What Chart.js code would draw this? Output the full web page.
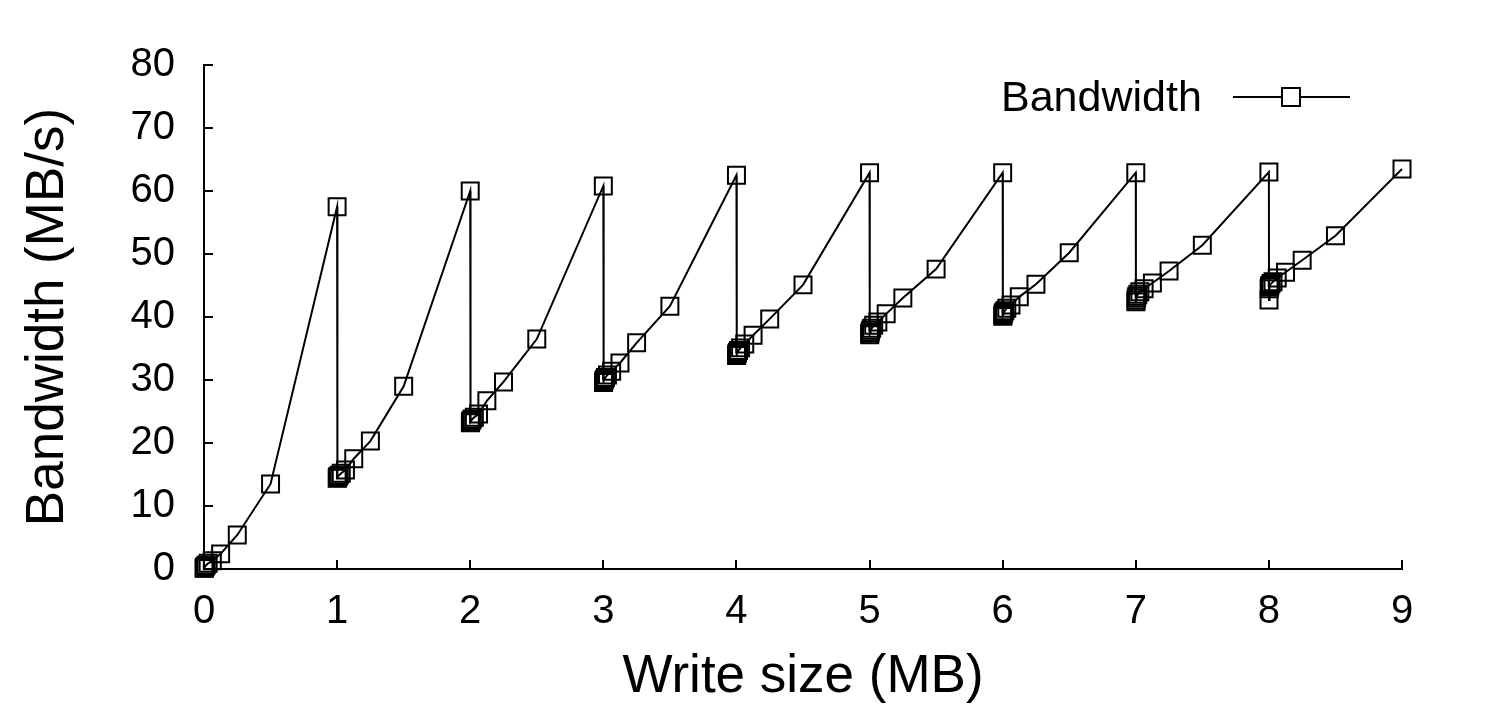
<!DOCTYPE html>
<html>
<head>
<meta charset="utf-8">
<title>Bandwidth vs write size</title>
<script src="https://cdn.jsdelivr.net/npm/chart.js@4.4.1/dist/chart.umd.min.js"></script>
<style>
  html, body { margin: 0; padding: 0; background: #fff; }
  canvas { display: block; }
</style>
</head>
<body>
<canvas id="bandwidthChart" width="1503" height="724"></canvas>
<script>
// write sizes inside each MB step: +1KB, 2KB, 4KB ... 512KB
const stepOffsets = [0.001, 0.002, 0.004, 0.008, 0.016, 0.031, 0.0625, 0.125, 0.25, 0.5];
const stepStarts = [0, 1, 2, 3, 4, 5, 6, 7, 8];

// bandwidth (MB/s), one row per MB step
const bandwidthStep0 = [0.1, 0.15, 0.25, 0.4, 0.6, 0.9, 1.3, 2.4, 5.4, 13.5];
const bandwidthStep1 = [14.4, 14.5, 14.6, 14.7, 14.9, 15.2, 15.7, 17.5, 20.3, 29.0];
const bandwidthStep2 = [23.2, 23.3, 23.4, 23.6, 23.8, 24.1, 24.6, 26.7, 29.7, 36.5];
const bandwidthStep3 = [29.6, 29.7, 29.9, 30.1, 30.4, 30.8, 31.4, 32.7, 35.9, 41.7];
const bandwidthStep4 = [33.9, 34.0, 34.2, 34.4, 34.7, 35.1, 35.7, 37.1, 39.7, 45.1];
const bandwidthStep5 = [37.2, 37.4, 37.6, 37.9, 38.2, 38.7, 39.2, 40.5, 43.0, 47.6];
const bandwidthStep6 = [40.1, 40.3, 40.5, 40.7, 41.0, 41.4, 41.9, 43.2, 45.2, 50.2];
const bandwidthStep7 = [42.4, 42.7, 43.0, 43.3, 43.6, 44.0, 44.5, 45.4, 47.3, 51.4];
const bandwidthStep8 = [42.7, 44.5, 44.8, 45.0, 45.3, 45.6, 46.2, 47.1, 49.0, 52.9];

// full MB write sizes and their bandwidth
const peakSizes = [1, 2, 3, 4, 5, 6, 7, 8, 9];
const peakBandwidth = [57.5, 60.0, 60.8, 62.5, 62.9, 62.9, 62.9, 63.0, 63.5];

const xTicks = [0, 1, 2, 3, 4, 5, 6, 7, 8, 9];

const stepRows = [bandwidthStep0, bandwidthStep1, bandwidthStep2, bandwidthStep3, bandwidthStep4,
                  bandwidthStep5, bandwidthStep6, bandwidthStep7, bandwidthStep8];

const points = [];
stepStarts.forEach((start, k) => {
    stepOffsets.forEach((off, i) => {
        points.push({ x: start + off, y: stepRows[k][i] });
    });
    points.push({ x: peakSizes[k], y: peakBandwidth[k] });
});

const FONT = '"Liberation Sans", Arial, sans-serif';

const whiteBackground = {
    id: "whiteBackground",
    beforeDraw(chart) {
        const ctx = chart.ctx;
        ctx.save();
        ctx.fillStyle = "#fff";
        ctx.fillRect(0, 0, chart.width, chart.height);
        ctx.restore();
    }
};

// tick marks point into the plot, Excel style
const innerTicks = {
    id: "innerTicks",
    afterDraw(chart) {
        const ctx = chart.ctx;
        const { x, y } = chart.scales;
        const area = chart.chartArea;
        ctx.save();
        ctx.strokeStyle = "#000";
        ctx.lineWidth = 2;
        ctx.beginPath();
        x.ticks.forEach(t => {
            const px = Math.round(x.getPixelForValue(t.value));
            ctx.moveTo(px, area.bottom);
            ctx.lineTo(px, area.bottom - 9);
        });
        y.ticks.forEach(t => {
            const py = Math.round(y.getPixelForValue(t.value));
            ctx.moveTo(area.left, py);
            ctx.lineTo(area.left + 9, py);
        });
        ctx.stroke();
        ctx.restore();
    }
};

// legend with the text left of the sample, like the original
const sideLegend = {
    id: "sideLegend",
    afterDraw(chart) {
        const ctx = chart.ctx;
        ctx.save();
        ctx.fillStyle = "#000";
        ctx.font = "43px " + FONT;
        ctx.textBaseline = "alphabetic";
        ctx.fillText("Bandwidth", 1001, 111);
        ctx.strokeStyle = "#000";
        ctx.lineWidth = 2;
        ctx.beginPath();
        ctx.moveTo(1233, 97);
        ctx.lineTo(1350, 97);
        ctx.stroke();
        ctx.fillStyle = "#fff";
        ctx.fillRect(1282, 88, 18, 18);
        ctx.strokeRect(1282, 88, 18, 18);
        ctx.restore();
    }
};

new Chart(document.getElementById("bandwidthChart"), {
    type: "line",
    data: {
        datasets: [{
            label: "Bandwidth",
            data: points,
            borderColor: "#000",
            borderWidth: 2,
            backgroundColor: "rgba(0,0,0,0)",
            pointStyle: "rect",
            pointRadius: 12,
            pointBorderWidth: 2,
            pointBorderColor: "#000",
            pointBackgroundColor: "rgba(0,0,0,0)",
            tension: 0,
            clip: false
        }]
    },
    options: {
        responsive: false,
        animation: false,
        layout: {
            padding: { left: 0, top: 65, right: 101, bottom: 0 }
        },
        plugins: {
            legend: { display: false },
            tooltip: { enabled: false }
        },
        scales: {
            x: {
                type: "linear",
                min: 0,
                max: 9,
                afterBuildTicks: scale => {
                    scale.ticks = xTicks.map(v => ({ value: v }));
                },
                afterFit: scale => { scale.height = 155; },
                border: { color: "#000", width: 2 },
                grid: {
                    drawOnChartArea: false,
                    drawTicks: false
                },
                ticks: {
                    color: "#000",
                    padding: 19,
                    maxRotation: 0,
                    font: { family: FONT, size: 40 }
                },
                title: {
                    display: true,
                    text: "Write size (MB)",
                    color: "#000",
                    font: { family: FONT, size: 53 },
                    padding: { top: 0, bottom: 15 }
                }
            },
            y: {
                min: 0,
                max: 80,
                afterFit: scale => { scale.width = 204; },
                border: { color: "#000", width: 2 },
                grid: {
                    drawOnChartArea: false,
                    drawTicks: false
                },
                ticks: {
                    stepSize: 10,
                    color: "#000",
                    padding: 29,
                    font: { family: FONT, size: 40 }
                },
                title: {
                    display: true,
                    text: "Bandwidth (MB/s)",
                    color: "#000",
                    font: { family: FONT, size: 53 },
                    padding: { top: 17, bottom: 0 }
                }
            }
        }
    },
    plugins: [whiteBackground, innerTicks, sideLegend]
});
</script>
</body>
</html>
